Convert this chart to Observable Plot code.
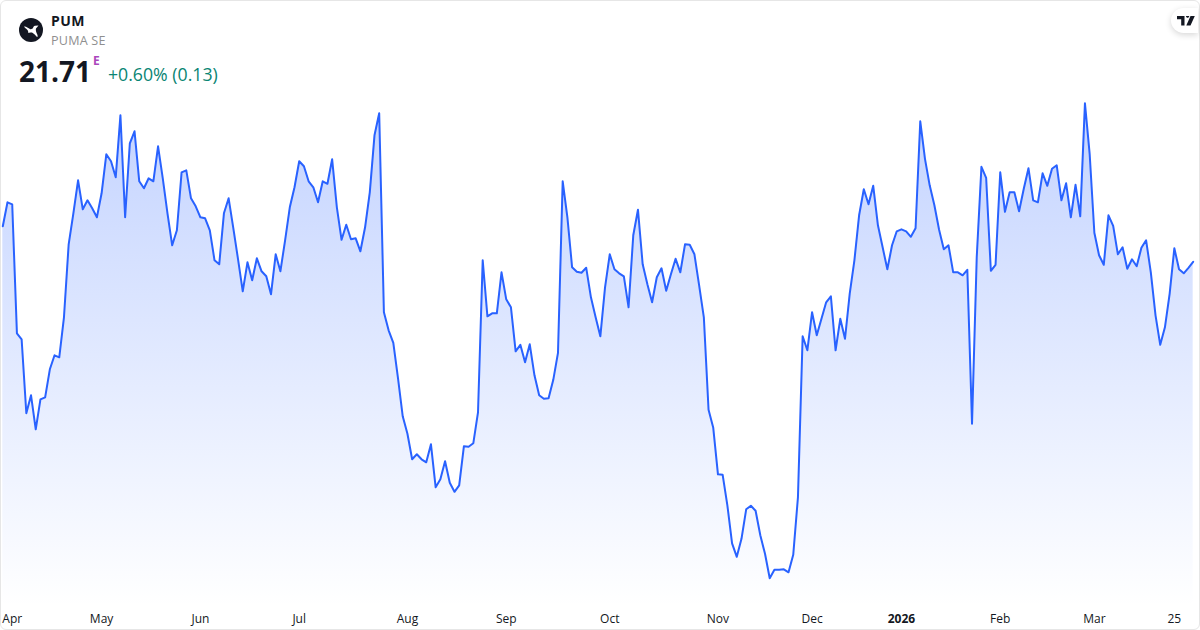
<!DOCTYPE html>
<html><head><meta charset="utf-8">
<script src="https://cdn.jsdelivr.net/npm/d3@7"></script>
<script src="https://cdn.jsdelivr.net/npm/@observablehq/plot@0.6"></script>
<style>
html,body{margin:0;padding:0;background:#fff;width:1200px;height:630px;overflow:hidden;font-family:"Open Sans",sans-serif}
#card{position:absolute;left:0;top:0;width:1198px;height:628px;border:1px solid #e6e6e6;border-radius:6px;pointer-events:none;box-sizing:content-box}
#chart{position:absolute;left:0;top:0}
.h{position:absolute;white-space:nowrap}
#badge{position:absolute;left:1171px;top:8px;width:27px;height:25px;background:#fff;border-radius:13px 0 0 13px;box-shadow:0 2px 6px rgba(0,0,0,.16)}
</style></head><body>
<div id="chart"></div>
<div id="card"></div>
<svg class="h" style="left:19px;top:18px" width="24" height="24" viewBox="0 0 24 24"><circle cx="12" cy="12" r="12" fill="#131722"/><path d="M5 8.500C7 8 9 10 11 11C12 11.500 13.500 11 14 10C14.300 9 15 8 16 7.800L19.500 7.500C18.500 8.500 18 9.500 17 10.500C16.500 12 17 14 18.500 17C18.500 18 19 19 18 19C16.500 17.500 15 15.500 13 14.500C11.500 14.500 10 15 9 14.500C9.500 13.500 9 12.500 8 11.500C7 10.500 6 10 5 8.500z" fill="#fff"/></svg>
<div class="h" style="left:51px;top:12px;font-size:14px;line-height:18px;font-weight:700;letter-spacing:.4px;color:#131722">PUM</div>
<div class="h" style="left:51px;top:32px;font-size:12.600px;line-height:17px;color:#8f8f8f;letter-spacing:.2px">PUMA SE</div>
<div class="h" style="left:19px;top:52px;font-size:28px;line-height:38px;font-weight:700;color:#131722">21.71</div>
<div class="h" style="left:93px;top:54px;font-size:12px;line-height:14px;font-weight:700;color:#ab47bc">E</div>
<div class="h" style="left:108px;top:63px;font-size:17.700px;line-height:22px;color:#0a8573">+0.60% (0.13)</div>
<div id="badge"><svg style="position:absolute;left:6px;top:8px" width="18" height="10" viewBox="0 0 18 10"><path d="M0 0h7.500v9.500H4.200V3.200H0z M9 .2a1.600 1.600 0 1 1 0 .01z M13.500 0h4.300l-4.300 9.500H9.300z" fill="#131722"/></svg></div>
<script>
// Daily closes (one per trading day, first to last)
const prices = [
22.42,22.90,22.86,20.28,20.16,18.68,19.04,18.36,18.96,19.00,19.56,19.84,19.80,20.60,22.06,22.68,
23.34,22.76,22.94,22.78,22.60,23.08,23.86,23.72,23.40,24.64,22.60,24.08,24.32,23.32,23.18,23.38,
23.32,24.02,23.38,22.68,22.04,22.34,23.50,23.54,22.98,22.82,22.60,22.58,22.34,21.74,21.66,22.68,
22.98,22.38,21.76,21.12,21.70,21.34,21.78,21.52,21.42,21.06,21.86,21.52,22.14,22.80,23.20,23.72,
23.62,23.32,23.20,22.90,23.32,23.27,23.76,22.80,22.15,22.45,22.16,22.18,21.92,22.40,23.10,24.24,
24.68,20.70,20.34,20.09,19.38,18.62,18.27,17.76,17.86,17.76,17.70,18.06,17.20,17.36,17.72,17.29,
17.11,17.24,18.02,18.01,18.08,18.70,21.74,20.62,20.68,20.68,21.50,20.96,20.80,19.92,20.05,19.70,
20.06,19.44,19.04,18.97,18.98,19.35,19.89,23.32,22.60,21.60,21.51,21.49,21.59,21.00,20.60,20.22,
21.20,21.86,21.56,21.48,21.42,20.80,22.24,22.75,21.66,21.26,20.90,21.40,21.58,21.13,21.46,21.77,
21.50,22.06,22.05,21.86,21.24,20.60,18.75,18.39,17.46,17.45,16.84,16.08,15.81,16.17,16.76,16.83,
16.73,16.24,15.87,15.38,15.55,15.55,15.56,15.50,15.85,17.00,20.22,19.94,20.70,20.24,20.57,20.90,
21.02,19.94,20.57,20.17,21.07,21.74,22.64,23.16,22.86,23.23,22.44,22.00,21.56,22.04,22.32,22.36,
22.32,22.21,22.38,24.52,23.77,23.24,22.84,22.35,21.96,22.04,21.50,21.50,21.44,21.55,18.47,21.80,
23.61,23.39,21.53,21.65,23.50,22.71,23.10,23.10,22.72,23.17,23.58,22.94,22.90,23.48,23.23,23.57,
23.64,22.94,23.28,22.60,23.25,22.62,24.88,23.87,22.29,21.84,21.65,22.64,22.43,21.86,22.00,21.57,
21.76,21.62,21.99,22.14,21.50,20.64,20.05,20.40,21.07,21.98,21.56,21.48,21.59,21.71
];
const sessions = prices.map((_, i) => i);

// Axis labels and the session each one sits on
const monthLabels = ["Apr","May","Jun","Jul","Aug","Sep","Oct","Nov","Dec","Feb","Mar","25"];
const monthSessions = [2,21,42,63,86,107,129,152,172,212,232,249];
const yearLabels = ["2026"];
const yearSessions = [191];

const lineColor = "#2962ff";
const axisColor = "#131722";
const priceFloor = 14.796;
const priceCeil = 26.936;

const labelFor = (ticks, labels) => v => labels[ticks.indexOf(v)];

const chart = Plot.plot({
  width: 1200, height: 630,
  marginTop: 0, marginRight: 0, marginBottom: 23, marginLeft: 0,
  style: {background: "transparent", fontFamily: '"Open Sans", sans-serif', overflow: "visible"},
  x: {type: "linear", domain: [-0.489, 254.56]},
  y: {domain: [priceFloor, priceCeil], axis: null},
  marks: [
    () => {
      const svgNS = "http://www.w3.org/2000/svg";
      const defs = document.createElementNS(svgNS, "defs");
      const g = document.createElementNS(svgNS, "linearGradient");
      g.setAttribute("id", "fade");
      g.setAttribute("gradientUnits", "userSpaceOnUse");
      g.setAttribute("x1", 0); g.setAttribute("x2", 0);
      g.setAttribute("y1", 102); g.setAttribute("y2", 607);
      [[0, .28], [1, 0]].forEach(([o, a]) => {
        const s = document.createElementNS(svgNS, "stop");
        s.setAttribute("offset", o);
        s.setAttribute("stop-color", lineColor);
        s.setAttribute("stop-opacity", a);
        g.appendChild(s);
      });
      defs.appendChild(g);
      return defs;
    },
    Plot.areaY(sessions, {x: d => d, y1: priceFloor, y2: d => prices[d], fill: "url(#fade)"}),
    Plot.lineY(sessions, {x: d => d, y: d => prices[d], stroke: lineColor, strokeWidth: 2, strokeLinejoin: "round"}),
    Plot.axisX({ticks: monthSessions, tickFormat: labelFor(monthSessions, monthLabels), tickSize: 0, tickPadding: 7, fontSize: 12, fill: axisColor, label: null}),
    Plot.axisX({ticks: yearSessions, tickFormat: labelFor(yearSessions, yearLabels), tickSize: 0, tickPadding: 7, fontSize: 12, fontWeight: 700, fill: axisColor, label: null})
  ]
});
document.getElementById("chart").appendChild(chart);
</script>
</body></html>
